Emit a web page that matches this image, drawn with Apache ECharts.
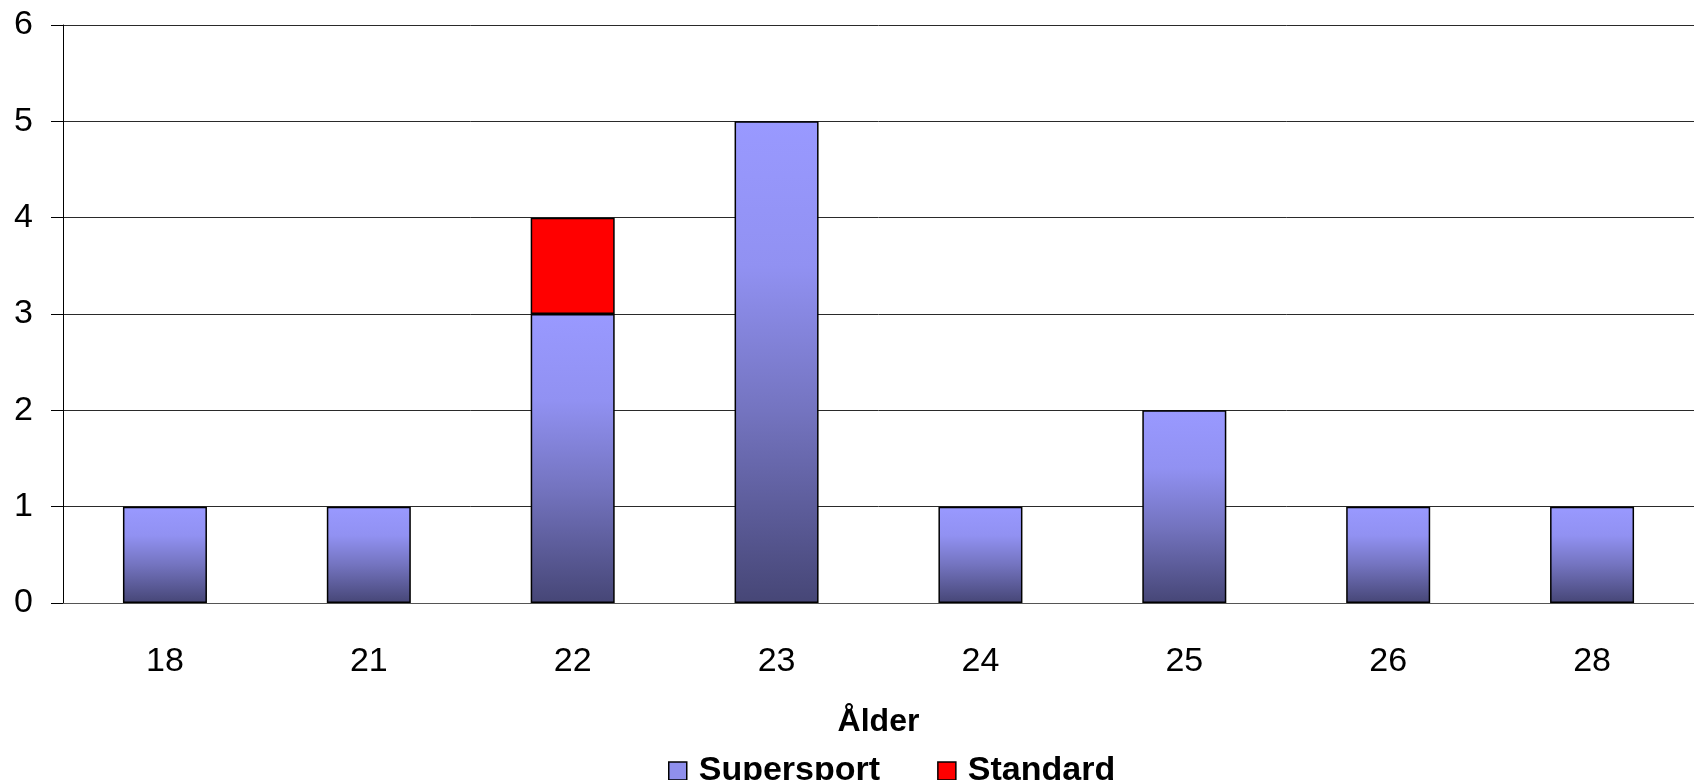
<!DOCTYPE html>
<html>
<head>
<meta charset="utf-8">
<title>Ålder</title>
<script src="https://cdn.jsdelivr.net/npm/echarts@6/dist/echarts.min.js"></script>
<style>
  html, body { margin: 0; padding: 0; background: #fff; }
  #chart { width: 1694px; height: 780px; }
</style>
</head>
<body>
<div id="chart"></div>
<script>
// åldrar (kategorier)
const ages = ['18', '21', '22', '23', '24', '25', '26', '28']
// antal per klass
const supersport = [1, 1, 3, 5, 1, 2, 1, 1]
const standard = [null, null, 1, null, null, null, null, null]

const font = 'Arial, "Liberation Sans", sans-serif'

const chart = echarts.init(document.getElementById('chart'))
chart.setOption({
  animation: false,
  textStyle: { fontFamily: font },
  grid: {
    left: 63,
    top: 25,
    width: 1645,
    height: 578
  },
  legend: {
    left: 668,
    top: 754,
    padding: 0,
    itemWidth: 18,
    itemHeight: 18,
    itemGap: 57,
    textStyle: {
      fontFamily: font,
      fontSize: 34,
      fontWeight: 'bold',
      color: '#000',
      padding: [0, 0, 0, 7]
    },
    data: [
      { name: 'Supersport', icon: 'rect', itemStyle: { color: '#8f8fec', borderColor: '#000', borderWidth: 1.5 } },
      { name: 'Standard', icon: 'rect', itemStyle: { color: '#ff0000', borderColor: '#000', borderWidth: 1.5 } }
    ]
  },
  xAxis: {
    type: 'category',
    data: ages,
    name: 'Ålder',
    nameLocation: 'middle',
    nameGap: 103,
    nameTextStyle: { fontFamily: font, fontSize: 32, fontWeight: 'bold', color: '#000' },
    axisLine: { lineStyle: { color: '#555', width: 1 } },
    axisTick: { length: 12, lineStyle: { color: '#808080' } },
    axisLabel: { fontFamily: font, fontSize: 34, color: '#000', margin: 42 }
  },
  yAxis: {
    type: 'value',
    min: 0,
    max: 6,
    interval: 1,
    axisLine: { show: true, lineStyle: { color: '#000', width: 1 } },
    axisTick: { show: true, length: 12, lineStyle: { color: '#000' } },
    axisLabel: { fontFamily: font, fontSize: 34, color: '#000', margin: 30 },
    splitLine: { lineStyle: { color: '#2a2a2a', width: 1 } }
  },
  series: [
    {
      name: 'Supersport',
      type: 'bar',
      stack: 'klass',
      barWidth: 84,
      data: supersport,
      itemStyle: {
        borderColor: '#000',
        borderWidth: 1.5,
        color: new echarts.graphic.LinearGradient(0, 0, 0, 1, [
          { offset: 0, color: '#9999ff' },
          { offset: 0.3, color: '#9191f2' },
          { offset: 0.6, color: '#7474c0' },
          { offset: 1, color: '#464676' }
        ])
      }
    },
    {
      name: 'Standard',
      type: 'bar',
      stack: 'klass',
      barWidth: 84,
      data: standard,
      itemStyle: { color: '#ff0000', borderColor: '#000', borderWidth: 1.5 }
    }
  ]
})
</script>
</body>
</html>
